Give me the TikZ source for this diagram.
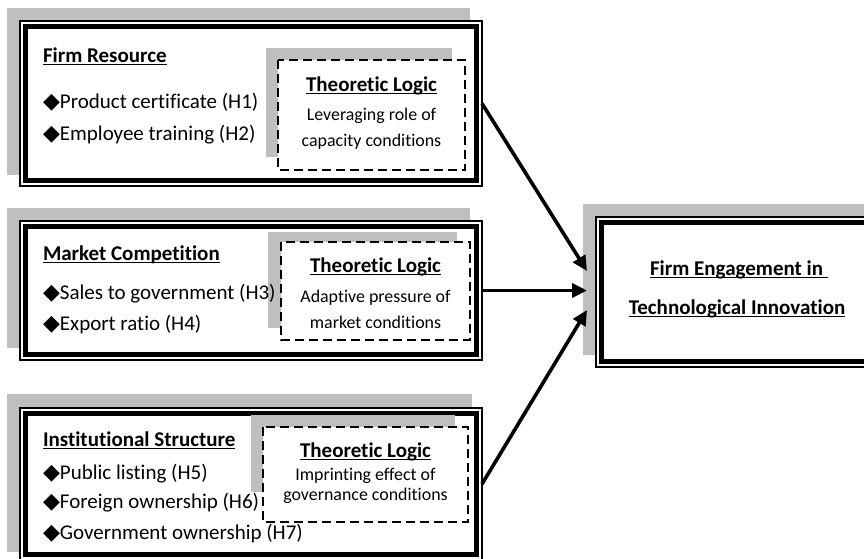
\documentclass[tikz,border=0pt]{standalone}
\usepackage{fontspec}
\setmainfont{Carlito}[RawFeature={-liga;-clig}]
\newfontfamily\symfont{DejaVu Sans}
\usetikzlibrary{arrows.meta,calc}
\newcommand\myul[1]{\leavevmode\setbox0=\hbox{#1}\rlap{\raisebox{-3.4pt}{\rule{\wd0}{1.7pt}}}\box0}
\newcommand\dia{{\symfont\fontsize{22}{22}\selectfont ◆}}
\newcommand\bigf{\fontsize{21}{24}\selectfont}
\newcommand\smallf{\fontsize{17.9}{20}\selectfont}
\definecolor{shade}{HTML}{BFBFBF}
\tikzset{
  shadowbox/.style={fill=shade, draw=none},
  frameouter/.style={draw=black, fill=white, line width=1.1pt, inner sep=0pt, outer sep=0pt},
  framethick/.style={draw=black, line width=5.4pt},
  dashbox/.style={draw=black, fill=white, line width=1.3pt, dash pattern=on 9pt off 5pt},
  txt/.style={inner sep=0pt, outer sep=0pt, anchor=base west, font=\bigf},
  ctxt/.style={inner sep=0pt, outer sep=0pt, anchor=base, font=\bigf},
  stxt/.style={inner sep=0pt, outer sep=0pt, anchor=base, font=\smallf},
  arr/.style={line width=3.6pt, -{Triangle[length=15pt,width=14pt]}}
}
\begin{document}
\begin{tikzpicture}[x=1pt,y=-1pt]
\useasboundingbox (0,0) rectangle (864,558);
\clip (0,0) rectangle (864,558);
% ---------- box 1 ----------
\fill[shadowbox] (7,8) rectangle (470,175);
\node[frameouter, minimum width=462pt, minimum height=165pt] (b1) at (251,103.5) {};
\draw[framethick] ([shift={(5.5,5.5)}]b1.north west) rectangle ([shift={(-5.5,-5.5)}]b1.south east);
\fill[shadowbox] (266,48) rectangle (452,157);
\draw[dashbox] (278,60) rectangle (465,170);
\node[txt] (h1) at (43,62) {\bfseries\myul{Firm Resource}};
\node[txt] (i1) at (43,108) {\dia Product certificate (H1)};
\node[txt] (i2) at (43,140) {\dia Employee training (H2)};
\node[ctxt] (l1) at (371.5,91) {\bfseries\myul{Theoretic Logic}};
\node[stxt] (l1a) at (371.5,120) {Leveraging role of};
\node[stxt] (l1b) at (371.5,146) {capacity conditions};
% ---------- box 2 ----------
\fill[shadowbox] (7,208) rectangle (470,348);
\node[frameouter, minimum width=462pt, minimum height=139pt] (b2) at (251,290.5) {};
\draw[framethick] ([shift={(5.5,5.5)}]b2.north west) rectangle ([shift={(-5.5,-5.5)}]b2.south east);
\fill[shadowbox] (268,232) rectangle (457,328);
\draw[dashbox] (281,242) rectangle (470,340);
\node[txt] (h2) at (43,260) {\bfseries\myul{Market Competition}};
\node[txt] (i3) at (43,299) {\dia Sales to government (H3)};
\node[txt] (i4) at (43,330) {\dia Export ratio (H4)};
\node[ctxt] (l2) at (375.5,272) {\bfseries\myul{Theoretic Logic}};
\node[stxt] (l2a) at (375.5,302) {Adaptive pressure of};
\node[stxt] (l2b) at (375.5,328) {market conditions};
% ---------- box 3 ----------
\fill[shadowbox] (7,394) rectangle (472,552);
\node[frameouter, minimum width=462pt, minimum height=152pt] (b3) at (251,484) {};
\draw[framethick] ([shift={(5.5,5.5)}]b3.north west) rectangle ([shift={(-5.5,-5.5)}]b3.south east);
\fill[shadowbox] (251,415) rectangle (455,492);
\draw[dashbox] (263,427) rectangle (468,522);
\node[txt] (h3) at (43,446) {\bfseries\myul{Institutional Structure}};
\node[txt] (i5) at (43,479) {\dia Public listing (H5)};
\node[txt] (i6) at (43,508) {\dia Foreign ownership (H6)};
\node[txt] (i7) at (43,539) {\dia Government ownership (H7)};
\node[ctxt] (l3) at (365.5,457) {\bfseries\myul{Theoretic Logic}};
\node[stxt] (l3a) at (365.5,480) {Imprinting effect of};
\node[stxt] (l3b) at (365.5,500) {governance conditions};
% ---------- target ----------
\fill[shadowbox] (583,204) rectangle (880,355);
\node[frameouter, minimum width=284pt, minimum height=150pt] (tgt) at (738,292) {};
\draw[framethick] ([shift={(5.5,5.5)}]tgt.north west) rectangle ([shift={(-5.5,-5.5)}]tgt.south east);
\node[ctxt] (g1) at (739,275) {\bfseries\myul{Firm Engagement in\ }};
\node[ctxt] (g2) at (737,314) {\bfseries\myul{Technological Innovation}};
% ---------- arrows ----------
\coordinate (e2) at ($(tgt.west)+(-9,0)$);
\draw[arr] (b1.east) -- ($(tgt.west)+(-9,-21)$);
\draw[arr] (b2.east) -- (e2 |- b2.east);
\draw[arr] (b3.east) -- ($(tgt.west)+(-9,18)$);
\end{tikzpicture}
\end{document}
